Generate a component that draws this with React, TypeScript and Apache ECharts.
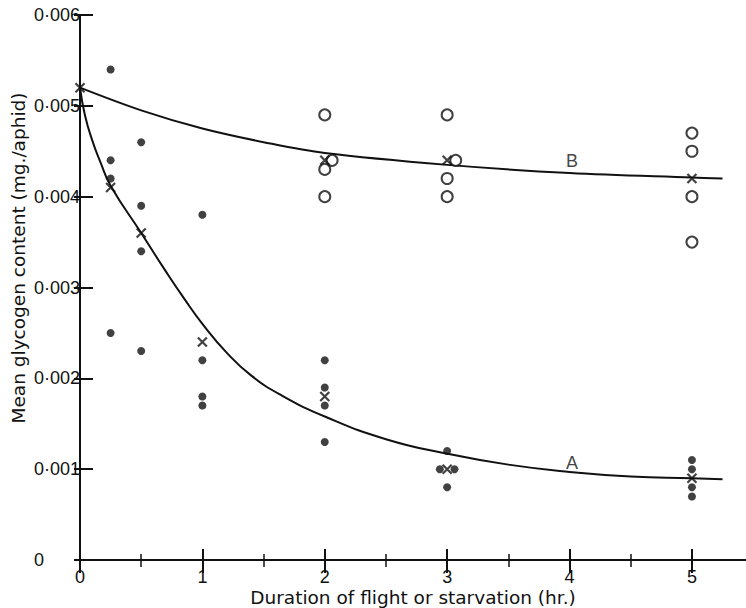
import React, { useEffect, useRef } from "react";
import * as echarts from "echarts";

// Individual aphids, flown (curve A): filled dots
const flownDots: [number, number][] = [
  [0.25, 0.0054], [0.25, 0.0044], [0.25, 0.0042], [0.25, 0.0025],
  [0.5, 0.0046], [0.5, 0.0039], [0.5, 0.0034], [0.5, 0.0023],
  [1, 0.0038], [1, 0.0022], [1, 0.0018], [1, 0.0017],
  [2, 0.0022], [2, 0.0019], [2, 0.0017], [2, 0.0013],
  [3, 0.0012], [2.94, 0.001], [3.06, 0.001], [3, 0.0008],
  [5, 0.0011], [5, 0.001], [5, 0.0008], [5, 0.0007],
];

// Individual aphids, starved (curve B): open circles
const starvedCircles: [number, number][] = [
  [2, 0.0049], [2.06, 0.0044], [2, 0.0043], [2, 0.004],
  [3, 0.0049], [3.07, 0.0044], [3, 0.0042], [3, 0.004],
  [5, 0.0047], [5, 0.0045], [5, 0.004], [5, 0.0035],
];

// Means: crosses
const meansA: [number, number][] = [
  [0, 0.0052], [0.25, 0.0041], [0.5, 0.0036], [1, 0.0024],
  [2, 0.0018], [3, 0.001], [5, 0.0009],
];
const meansB: [number, number][] = [
  [2, 0.0044], [3, 0.0044], [5, 0.0042],
];

// Fitted curves
const curveA: [number, number][] = [
  [0, 0.0052], [0.04, 0.0049], [0.1, 0.00462], [0.17, 0.00437], [0.25, 0.00412],
  [0.5, 0.0036], [0.7, 0.00318], [0.85, 0.00288], [1, 0.0026], [1.2, 0.00228],
  [1.4, 0.00203], [1.65, 0.00181], [2, 0.00158], [2.5, 0.00133], [3, 0.00117],
  [3.5, 0.00105], [4, 0.00097], [4.5, 0.00092], [5, 0.0009], [5.25, 0.00089],
];
const curveB: [number, number][] = [
  [0, 0.0052], [0.5, 0.00495], [1, 0.00475], [1.5, 0.0046], [2, 0.00448],
  [3, 0.00435], [4, 0.00426], [5, 0.00421], [5.25, 0.0042],
];

const curveLabels: { name: string; value: [number, number] }[] = [
  { name: "A", value: [4.02, 0.00107] },
  { name: "B", value: [4.02, 0.00439] },
];

const xTicks = [0, 1, 2, 3, 4, 5];
const yTickLabels = ["0", "0·001", "0·002", "0·003", "0·004", "0·005", "0·006"];
const xTitle = "Duration of flight or starvation (hr.)";
const yTitle = "Mean glycogen content (mg./aphid)";

const TITLE_FONT = "DejaVu Sans";
const TICK_FONT = "Liberation Sans";
const INK = "#111";

export default function App() {
  const ref = useRef<HTMLDivElement>(null);
  useEffect(() => {
    if (!ref.current) return;
    const chart = echarts.init(ref.current, undefined, { renderer: "svg" });
    const crossPath = "path://M0,0L10,10M10,0L0,10";
    const axisCommon = {
      type: "value" as const,
      axisLine: { show: true, lineStyle: { color: INK, width: 2 } },
      splitLine: { show: false },
    };
    chart.setOption({
      animation: false,
      backgroundColor: "#fff",
      grid: {
        left: 80,
        top: 15,
        width: 667,
        height: 545,
        containLabel: false,
        outerBoundsMode: "none",
      },
      xAxis: [
        {
          ...axisCommon,
          position: "bottom",
          min: 0,
          max: 5.45,
          interval: 1,
          axisTick: { show: true, inside: true, length: 11, lineStyle: { color: INK, width: 2 } },
          minorTick: { show: true, splitNumber: 2, length: 6, lineStyle: { color: INK, width: 1.5 } },
          axisLabel: {
            show: true,
            margin: 9,
            fontFamily: TICK_FONT,
            fontSize: 18,
            lineHeight: 16,
            color: INK,
            showMaxLabel: false,
            formatter: (v: number) => (xTicks.indexOf(v) >= 0 ? String(v) : ""),
          },
        },
        {
          ...axisCommon,
          position: "top",
          min: 0,
          max: 5.45,
          interval: 1,
          axisTick: { show: true, inside: true, length: 13, lineStyle: { color: INK, width: 2 } },
          minorTick: { show: true, splitNumber: 2, length: 7, lineStyle: { color: INK, width: 1.5 } },
          axisLabel: { show: false },
        },
      ],
      yAxis: [
        {
          ...axisCommon,
          position: "left",
          min: 0,
          max: 0.006,
          interval: 0.001,
          axisTick: { show: true, inside: true, length: 13, lineStyle: { color: INK, width: 2 } },
          axisLabel: {
            show: true,
            align: "left",
            margin: 46,
            fontFamily: TICK_FONT,
            fontSize: 18,
            color: INK,
            formatter: (v: number) => yTickLabels[Math.round(v * 1000)] ?? "",
          },
        },
        {
          ...axisCommon,
          position: "right",
          min: 0,
          max: 0.006,
          interval: 0.001,
          axisTick: { show: true, inside: true, length: 6, lineStyle: { color: INK, width: 2 } },
          axisLabel: { show: false },
        },
      ],
      graphic: [
        {
          type: "text",
          x: 18,
          y: 258,
          rotation: Math.PI / 2,
          style: {
            text: yTitle,
            fontFamily: TITLE_FONT,
            fontSize: 18.5,
            fill: INK,
            align: "center",
            verticalAlign: "middle",
          },
        },
        {
          type: "text",
          x: 413,
          y: 597,
          style: {
            text: xTitle,
            fontFamily: TITLE_FONT,
            fontSize: 18.5,
            lineHeight: 17,
            fill: INK,
            align: "center",
            verticalAlign: "middle",
          },
        },
      ],
      series: [
        {
          type: "line",
          data: curveA,
          smooth: 0.5,
          showSymbol: false,
          lineStyle: { color: INK, width: 2 },
          z: 2,
        },
        {
          type: "line",
          data: curveB,
          smooth: 0.35,
          showSymbol: false,
          lineStyle: { color: INK, width: 2 },
          z: 2,
        },
        {
          type: "scatter",
          data: flownDots,
          symbol: "circle",
          symbolSize: 8,
          itemStyle: { color: INK },
          z: 3,
        },
        {
          type: "scatter",
          data: starvedCircles,
          symbol: "circle",
          symbolSize: 11,
          itemStyle: { color: "#fff", borderColor: INK, borderWidth: 2 },
          z: 3,
        },
        {
          type: "scatter",
          data: [...meansA, ...meansB],
          symbol: crossPath,
          symbolSize: 9,
          itemStyle: { color: "none", borderColor: INK, borderWidth: 2.2 },
          z: 4,
        },
        {
          type: "scatter",
          data: curveLabels,
          symbolSize: 0,
          label: {
            show: true,
            position: "inside",
            formatter: (p: any) => p.name,
            fontFamily: TICK_FONT,
            fontSize: 18,
            color: INK,
          },
          z: 5,
        },
      ],
    });
    return () => chart.dispose();
  }, []);
  return (
    <div
      ref={ref}
      style={{ position: "absolute", left: 0, top: 0, width: 746, height: 608, background: "#fff" }}
    />
  );
}
